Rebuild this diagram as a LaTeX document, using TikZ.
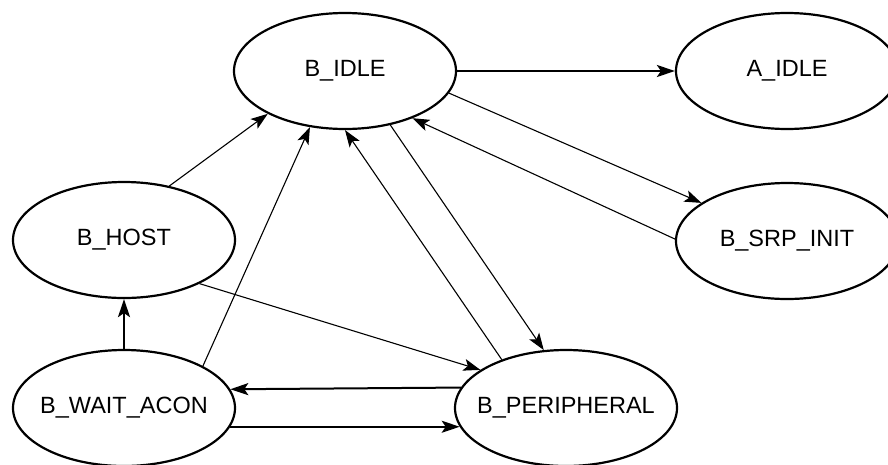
\documentclass[tikz,border=0pt]{standalone}
\usepackage{fontspec}
\setmainfont{Liberation Sans}
\usetikzlibrary{arrows.meta,shapes.geometric}
\begin{document}
\begin{tikzpicture}[x=1pt,y=-1pt,
  state/.style={draw, ellipse, line width=2.2pt, minimum width=222pt, minimum height=116pt, inner sep=0pt, font=\fontsize{23.5}{28}\selectfont},
  thinedge/.style={line width=1.1pt, -{Stealth[length=17pt,width=12pt,inset=4pt]}},
  thickedge/.style={line width=2pt, -{Stealth[length=18pt,width=12pt,inset=4pt]}}]
\fill[white] (0,0) rectangle (888,464);
\useasboundingbox (0,0) rectangle (888,464);

\node[state] (bidle) at (345,71) {\makebox[0pt]{\raisebox{-2pt}{B\_IDLE}}};
\node[state] (aidle) at (787,71) {\makebox[0pt]{\raisebox{-2pt}{A\_IDLE}}};
\node[state] (srp) at (787,241) {\makebox[0pt]{\raisebox{-2pt}{B\_SRP\_INIT}}};
\node[state] (host) at (124,240) {\makebox[0pt]{\raisebox{-2pt}{B\_HOST}}};
\node[state] (wait) at (124,408) {\makebox[0pt]{\raisebox{-2pt}{B\_WAIT\_ACON}}};
\node[state] (peri) at (566,408) {\makebox[0pt]{\raisebox{-2pt}{B\_PERIPHERAL}}};

% thick edges
\draw[thickedge] (bidle.east) -- (aidle.west);
\draw[thickedge] (wait.north) -- (host.south);
\draw[thickedge] (peri.169.1) -- (wait.10.9);
\draw[thickedge] (wait.-10.9) -- (peri.190.9);

% thin edges
\draw[thinedge] (host.50) -- (bidle.209.4);
\draw[thinedge] (wait.28) -- (bidle.238.4);
\draw[thinedge] (peri.143) -- (bidle.270);
\draw[thinedge] (bidle.310.3) -- (peri.111.6);
\draw[thinedge] (host.330.8) -- (peri.156.6);
\draw[thinedge] (bidle.348.8) -- (srp.156.4);
\draw[thinedge] (srp.179) -- (bidle.325);
\end{tikzpicture}
\end{document}
